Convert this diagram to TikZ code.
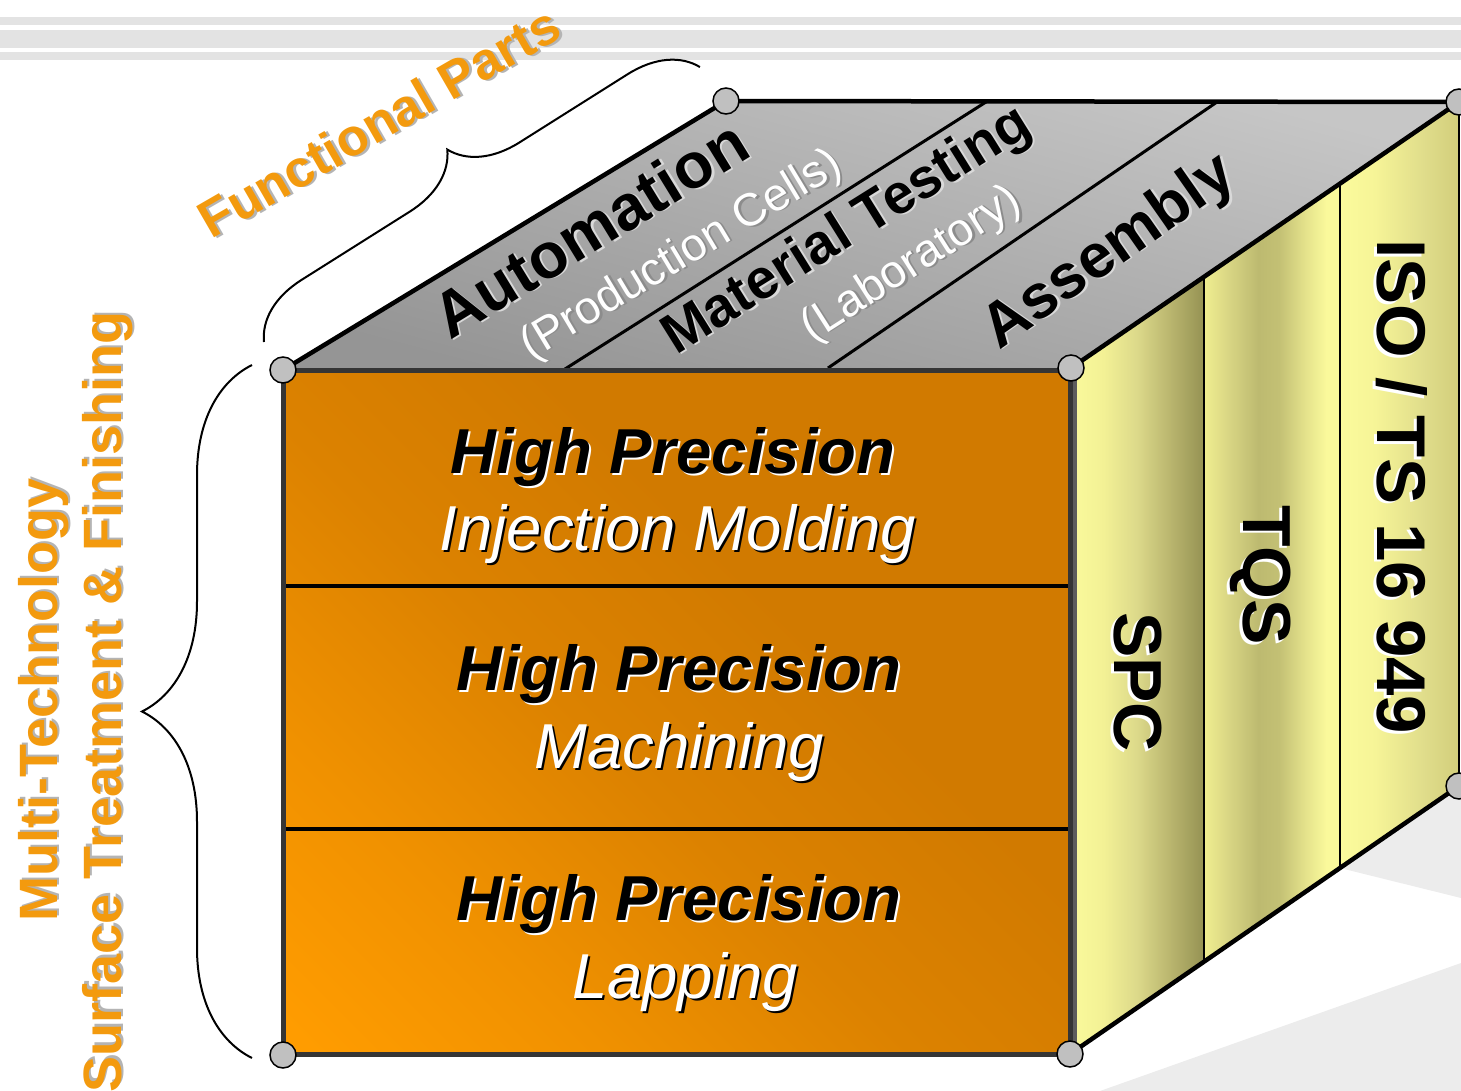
\documentclass[tikz,border=0pt]{standalone}
\usepackage{fontspec}
\setmainfont{Liberation Sans}
\usetikzlibrary{calc,decorations.pathreplacing}
\definecolor{oTxt}{HTML}{F39A0E}
\definecolor{oShadow}{HTML}{B4B4B4}
\definecolor{bgStripe}{HTML}{E3E3E3}
\definecolor{bgGray}{HTML}{ECECEC}
\definecolor{cGray}{HTML}{C0C0C0}
\definecolor{topL}{HTML}{C6C6C6}
\definecolor{topD}{HTML}{959595}
\definecolor{frontEdge}{HTML}{353535}
\definecolor{oL}{HTML}{FF9C00}
\definecolor{oM}{HTML}{F09100}
\definecolor{oN}{HTML}{DC8200}
\definecolor{oD}{HTML}{D17A00}
\definecolor{sAa}{HTML}{FAFA9C}
\definecolor{sAb}{HTML}{F3F195}
\definecolor{sAc}{HTML}{DCD98A}
\definecolor{sAd}{HTML}{B9B56E}
\definecolor{sAe}{HTML}{959253}
\definecolor{sBa}{HTML}{F0EE90}
\definecolor{sBb}{HTML}{D6D382}
\definecolor{sBc}{HTML}{BDBA70}
\definecolor{sBd}{HTML}{C3C074}
\definecolor{sBe}{HTML}{E5E38C}
\definecolor{sBf}{HTML}{FAF99B}
\definecolor{sCa}{HTML}{FBFB9C}
\definecolor{sCb}{HTML}{F6F497}
\definecolor{sCc}{HTML}{E0DD8B}
\definecolor{sCd}{HTML}{D2CE7B}
\pgfdeclareverticalshading{orangeSh}{100bp}{color(0bp)=(oL); color(16bp)=(oL); color(30bp)=(oM); color(45bp)=(oN); color(60bp)=(oD); color(100bp)=(oD)}
\pgfdeclarehorizontalshading{stripA}{100bp}{color(0bp)=(sAa); color(25bp)=(sAa); color(37.5bp)=(sAb); color(50bp)=(sAc); color(62.5bp)=(sAd); color(75bp)=(sAe); color(100bp)=(sAe)}
\pgfdeclarehorizontalshading{stripB}{100bp}{color(0bp)=(sBa); color(25bp)=(sBa); color(35bp)=(sBb); color(45bp)=(sBc); color(52.5bp)=(sBd); color(62.5bp)=(sBe); color(70bp)=(sBf); color(75bp)=(sBf); color(100bp)=(sBf)}
\pgfdeclarehorizontalshading{stripC}{100bp}{color(0bp)=(sCa); color(25bp)=(sCa); color(40bp)=(sCb); color(60bp)=(sCc); color(75bp)=(sCd); color(100bp)=(sCd)}
\newcommand{\fsz}[1]{\fontsize{#1}{#1}\selectfont}
% name, position, angle, font, colour, shadow colour, offset, text
\newcommand{\shtxt}[8]{%
  \node[rotate=#3, font={#4}, text=#6, anchor=base] at ($(#2)+({45-(#3)}:#7)$) {#8};
  \node[rotate=#3, font={#4}, text=#5, anchor=base] (#1) at (#2) {#8};}
\begin{document}
\begin{tikzpicture}[x=1pt,y=-1pt,
  every node/.style={inner sep=0pt, outer sep=0pt},
  corner/.style={circle, fill=cGray, draw=black, line width=1.5, minimum size=26, inner sep=0pt},
  edgeline/.style={line width=4.5, line join=round, line cap=round},
  divline/.style={line width=3},
  bracel/.style={line width=2, decorate}]
\useasboundingbox (0,0) rectangle (1461,1091);
% background
\fill[bgStripe] (0,17) rectangle (1461,25);
\fill[bgStripe] (0,30) rectangle (1461,48);
\fill[bgStripe] (0,52) rectangle (1461,60);
\fill[bgGray] (1340,868) -- (1461,898) -- (1461,780) -- cycle;
\fill[bgGray] (1100,1091) -- (1461,963) -- (1461,1091) -- cycle;
% key points
\coordinate (A) at (283,370);
\coordinate (B) at (1071,368);
\coordinate (C) at (1070,1054);
\coordinate (D) at (283,1055);
\coordinate (E) at (726,101);
\coordinate (F) at (1459,102);
\coordinate (G) at (1459,786);
\coordinate (T1) at (1204,277.3);
\coordinate (U1) at (1204,962.8);
\coordinate (T2) at (1340,183.8);
\coordinate (U2) at (1340,868.9);
% top face
\shade[top color=topL, bottom color=topD, shading angle=-15] (A) -- (E) -- (F) -- (B) -- cycle;
\draw[divline] (565,369) -- (986,102);
\draw[divline] (828,368) -- (1217,102);
% right face strips
\shade[shading=stripA] (B) -- (T1) -- (U1) -- (C) -- cycle;
\shade[shading=stripB] (T1) -- (T2) -- (U2) -- (U1) -- cycle;
\shade[shading=stripC] (T2) -- (F) -- (G) -- (U2) -- cycle;
\draw[line width=2.5] (T1) -- (U1);
\draw[line width=2.5] (T2) -- (U2);
\draw[line width=4, color=frontEdge!80] (1075,371) -- (1075,1052);
% front face
\shade[shading=orangeSh, shading angle=-45] (A) rectangle (C);
\draw[line width=3.5] (283,586) -- (1070,586);
\draw[line width=3.5] (283,829) -- (1070,829);
\draw[line width=5, color=frontEdge] (A) rectangle (C);
% outline of top and right faces
\draw[edgeline] (A) -- (E) -- (F) -- (B);
\draw[edgeline] (C) -- (G);
\draw[line width=2] (F) -- (G);
% corner circles
\node[corner] (cA) at (A) {};
\node[corner] (cB) at (B) {};
\node[corner] (cC) at (C) {};
\node[corner] (cD) at (D) {};
\node[corner] (cE) at (E) {};
\node[corner] (cF) at (F) {};
\node[corner] (cG) at (G) {};
% braces
\draw[bracel, decoration={brace, amplitude=65}] (264,342) -- (700,67);
\draw[bracel, decoration={brace, amplitude=110}] (252,1058) -- (252,365);
% side labels
\shtxt{fp}{388,138}{30}{\fsz{52}\bfseries}{oTxt}{oShadow}{3}{Functional Parts}
\shtxt{mt}{57,700}{90}{\fsz{54}\bfseries}{oTxt}{oShadow}{3}{Multi-Technology}
\shtxt{st}{121,702}{90}{\fsz{54}\bfseries}{oTxt}{oShadow}{3}{Surface Treatment \& Finishing}
% top face labels
\shtxt{au}{602,248}{31.5}{\fsz{64}\bfseries}{black}{black!15}{2.5}{Automation}
\shtxt{pc}{688,266}{31}{\fsz{46}}{white}{black!45}{2.5}{(Production Cells)}
\shtxt{ma}{855,244}{32}{\fsz{56}\bfseries}{black}{black!15}{2.5}{Material Testing}
\shtxt{la}{918,275}{32.5}{\fsz{46}}{white}{black!45}{2.5}{(Laboratory)}
\shtxt{as}{1119,266}{35}{\fsz{62}\bfseries}{black}{black!15}{2.5}{Assembly}
% right face labels
\shtxt{spc}{1114,682}{-90}{\fsz{68}\bfseries}{black}{white}{3.5}{SPC}
\shtxt{tqs}{1243,575}{-90}{\fsz{68}\bfseries}{black}{white}{3.5}{TQS}
\shtxt{iso}{1377,487}{-90}{\fsz{69}\bfseries}{black}{white}{3.5}{ISO / TS 16 949}
% front face labels
\shtxt{hp1}{673,473}{0}{\fsz{63.5}\bfseries\itshape}{black}{white}{3}{High Precision}
\shtxt{im}{678,550}{0}{\fsz{63.5}\itshape}{white}{black}{3}{Injection Molding}
\shtxt{hp2}{679,690}{0}{\fsz{63.5}\bfseries\itshape}{black}{white}{3}{High Precision}
\shtxt{mc}{679,768}{0}{\fsz{63.5}\itshape}{white}{black}{3}{Machining}
\shtxt{hp3}{679,920}{0}{\fsz{63.5}\bfseries\itshape}{black}{white}{3}{High Precision}
\shtxt{lp}{685,998}{0}{\fsz{63.5}\itshape}{white}{black}{3}{Lapping}
\end{tikzpicture}
\end{document}
